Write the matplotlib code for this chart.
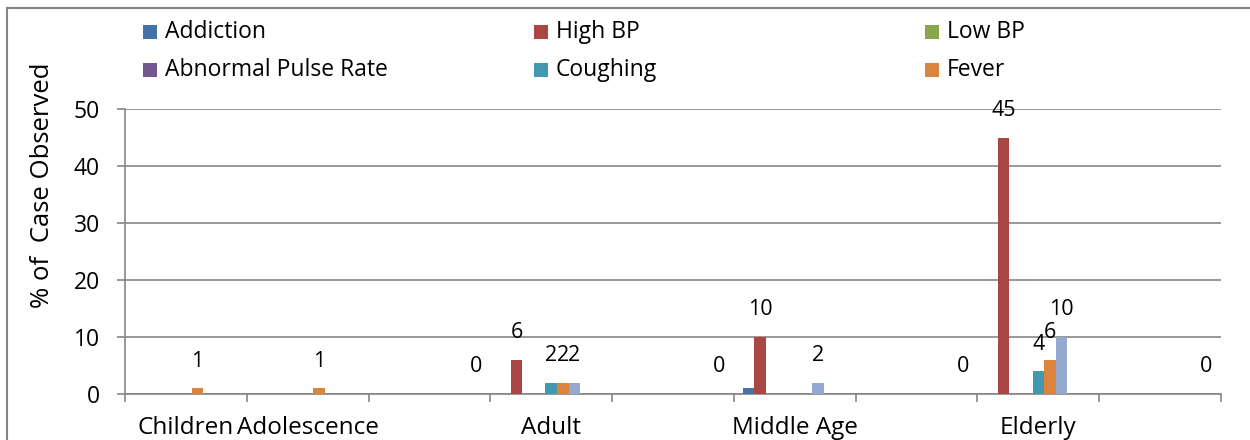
import matplotlib
matplotlib.use("Agg")
import matplotlib.pyplot as plt
from matplotlib.patches import Rectangle
from matplotlib.lines import Line2D
import numpy as np

plt.rcParams['font.family'] = ['Open Sans', 'DejaVu Sans']

categories = ["Children", "Adolescence", "", "Adult", "", "Middle Age", "", "Elderly", ""]
series_names = ["Addiction", "High BP", "Low BP", "Abnormal Pulse Rate", "Coughing",
                "Fever", "Series 7", "Series 8", "Series 9"]
addiction = [0, 0, 0, 0, 0, 1, 0, 0, 0]
high_bp = [0, 0, 0, 6, 0, 10, 0, 45, 0]
low_bp = [0, 0, 0, 0, 0, 0, 0, 0, 0]
abnormal_pulse = [0, 0, 0, 0, 0, 0, 0, 0, 0]
coughing = [0, 0, 0, 2, 0, 0, 0, 4, 0]
fever = [1, 1, 0, 2, 0, 0, 0, 6, 0]
series7 = [0, 0, 0, 2, 0, 2, 0, 10, 0]
series8 = [0, 0, 0, 0, 0, 0, 0, 0, 0]
series9 = [0, 0, 0, 0, 0, 0, 0, 0, 0]
# which categories carry a data label, per series
label_idx = [[], [3, 5, 7], [], [], [3, 7], [0, 1, 3, 7], [3, 5, 7], [], [2, 4, 6, 8]]
legend_count = 6

values = [addiction, high_bp, low_bp, abnormal_pulse, coughing, fever, series7, series8, series9]
colors = ["#4572A7", "#AA4643", "#89A54E", "#71588F", "#4198AF", "#DB843D",
          "#93A9CF", "#D19392", "#B9CD96"]

W, H = 1250, 440
fig = plt.figure(figsize=(W / 100, H / 100), dpi=100)
ax = fig.add_axes([125 / W, 1 - 394 / H, (1221 - 125) / W, (394 - 109) / H])

n = len(values)
bw = 11.6 / ((1221 - 125) / len(categories))
x = np.arange(len(categories))
gray = "#868686"
for k, (vals, col) in enumerate(zip(values, colors)):
    pos = x + (k - (n - 1) / 2) * bw
    ax.bar(pos, vals, width=bw, color=col, zorder=3, linewidth=0)
    for i in label_idx[k]:
        ax.annotate(str(vals[i]), (pos[i], vals[i]), xytext=(0, 19.5),
                    textcoords="offset points", ha="center", va="center",
                    fontsize=15.5, color="black", zorder=4)

ax.set_xlim(-0.5, len(categories) - 0.5)
ax.set_ylim(0, 50)
ax.set_yticks([0, 10, 20, 30, 40, 50])
ax.yaxis.grid(True, color=gray, linewidth=1.2, zorder=0)
ax.set_axisbelow(True)
for s in ["top", "right"]:
    ax.spines[s].set_visible(False)
for s in ["left", "bottom"]:
    ax.spines[s].set_color(gray)
    ax.spines[s].set_linewidth(1.2)
ax.set_xticks(x)
ax.set_xticklabels(categories)
ax.set_xticks(np.arange(-0.5, len(categories)), minor=True)
ax.tick_params(axis="x", which="major", length=0, pad=16, labelsize=17.5)
ax.tick_params(axis="x", which="minor", length=6, color=gray, width=1.2)
ax.tick_params(axis="y", length=6, color=gray, width=1.2, labelsize=16.5, pad=12)

fig.text(43 / W, 1 - 185 / H, "% of  Case Observed", rotation=90, ha="center",
         va="center", fontsize=18.5)

# legend (3 columns x 2 rows)
col_x = [143, 534, 925]
row_y = [32, 70]
for k in range(legend_count):
    cx = col_x[k % 3]
    cy = row_y[k // 3]
    fig.patches.append(Rectangle((cx / W, 1 - (cy + 7) / H), 14 / W, 14 / H,
                                 transform=fig.transFigure, facecolor=colors[k],
                                 edgecolor="none"))
    fig.text((cx + 22) / W, 1 - cy / H, series_names[k], ha="left", va="center",
             fontsize=16.5)

# chart outer border (top and left visible)
fig.add_artist(Line2D([7 / W, 1], [1 - 8 / H, 1 - 8 / H], transform=fig.transFigure,
                      color=gray, linewidth=1.5))
fig.add_artist(Line2D([7 / W, 7 / W], [0, 1 - 8 / H], transform=fig.transFigure,
                      color=gray, linewidth=1.5))

fig.savefig("out.png", dpi=100)
